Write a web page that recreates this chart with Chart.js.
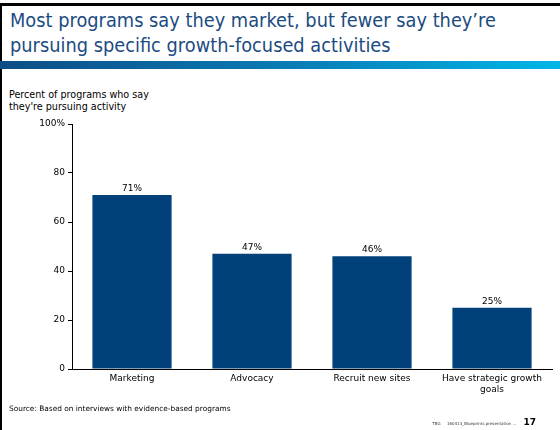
<!DOCTYPE html>
<html lang="en">

<head>
    <meta charset="UTF-8">
    <script src="https://cdn.jsdelivr.net/npm/chart.js@4.4.0/dist/chart.umd.min.js"></script>
    <title>Growth-focused activities</title>
    <style>
        body { margin: 0; width: 560px; height: 430px; position: relative; overflow: hidden; background: #fff; font-family: "DejaVu Sans", Verdana, sans-serif; }
        .frame-top { position: absolute; left: 0; top: 3px; width: 560px; height: 3px; background: #000; }
        .frame-left { position: absolute; left: 0; top: 3px; width: 2px; height: 427px; background: #000; }
        .title { position: absolute; left: 10px; top: 8px; font-size: 20px; line-height: 25px; color: #1c4b82; white-space: nowrap; transform: scaleX(0.89); transform-origin: left top; }
        .band { position: absolute; left: 0; top: 61px; width: 560px; height: 8px; background: linear-gradient(to right, #0d4d86, #0a7fb8 55%, #00b6e6); }
        .ytitle { position: absolute; left: 9px; top: 89px; font-size: 9.6px; line-height: 12px; color: #000; }
        .source { position: absolute; left: 9px; top: 404px; font-size: 7.4px; color: #000; }
        .footer { position: absolute; right: 24px; top: 417px; font-size: 4px; color: #333; white-space: nowrap; }
        .footer b { font-size: 9px; color: #000; margin-left: 6px; }
        #chart { position: absolute; left: 0; top: 110px; }
    </style>
</head>

<body>
    <!-- slide frame -->
    <div class="frame-top"></div>
    <div class="frame-left"></div>
    <div class="title">Most programs say they market, but fewer say they’re<br>pursuing specific growth-focused activities</div>
    <div class="band"></div>
    <div class="ytitle">Percent of programs who say<br>they're pursuing activity</div>

    <canvas id="chart" width="560" height="300"></canvas>

    <div class="source">Source: Based on interviews with evidence-based programs</div>
    <div class="footer">TBG &nbsp;&nbsp;&nbsp; 160413_Blueprints presentation ... <b>17</b></div>

    <script>
        // data
        var categories = ['Marketing', 'Advocacy', 'Recruit new sites', ['Have strategic growth', 'goals']];
        var percents = [71, 47, 46, 25];
        var yTicks = [0, 20, 40, 60, 80, 100];

        var FONT = '"DejaVu Sans", Verdana, sans-serif';

        // value labels above each bar
        var barLabels = {
            id: 'barLabels',
            afterDatasetsDraw: function (chart) {
                var ctx = chart.ctx;
                var meta = chart.getDatasetMeta(0);
                ctx.save();
                ctx.font = '9px ' + FONT;
                ctx.fillStyle = '#000';
                ctx.textAlign = 'center';
                ctx.textBaseline = 'alphabetic';
                meta.data.forEach(function (bar, i) {
                    ctx.fillText(percents[i] + '%', bar.x, bar.y - 4);
                });
                ctx.restore();
            }
        };

        var ctx = document.getElementById('chart').getContext('2d');
        var chart = new Chart(ctx, {
            type: 'bar',
            data: {
                labels: categories,
                datasets: [{
                    data: percents,
                    backgroundColor: '#00417a',
                    borderWidth: 0,
                    barPercentage: 0.66,
                    categoryPercentage: 1.0
                }]
            },
            options: {
                responsive: false,
                animation: false,
                devicePixelRatio: 1,
                layout: { padding: { top: 14, right: 8, left: 0, bottom: 0 } },
                plugins: {
                    legend: { display: false },
                    tooltip: { enabled: false }
                },
                scales: {
                    x: {
                        grid: { display: true, drawOnChartArea: false, drawTicks: false },
                        border: { color: '#000', width: 1 },
                        ticks: { color: '#000', font: { family: FONT, size: 9 }, padding: 4, maxRotation: 0, autoSkip: false },
                        afterFit: function (scale) { scale.height = 41; }
                    },
                    y: {
                        min: 0,
                        max: 100,
                        afterBuildTicks: function (scale) {
                            scale.ticks = yTicks.map(function (v) { return { value: v }; });
                        },
                        grid: { display: true, drawOnChartArea: false, drawTicks: true, tickLength: 4, color: '#000' },
                        border: { color: '#000', width: 1 },
                        ticks: {
                            color: '#000',
                            padding: 3,
                            font: { family: FONT, size: 9 },
                            callback: function (v) { return v === 100 ? '100%' : v; }
                        },
                        afterFit: function (scale) { scale.width = 72; }
                    }
                }
            },
            plugins: [barLabels]
        });
    </script>
</body>

</html>
